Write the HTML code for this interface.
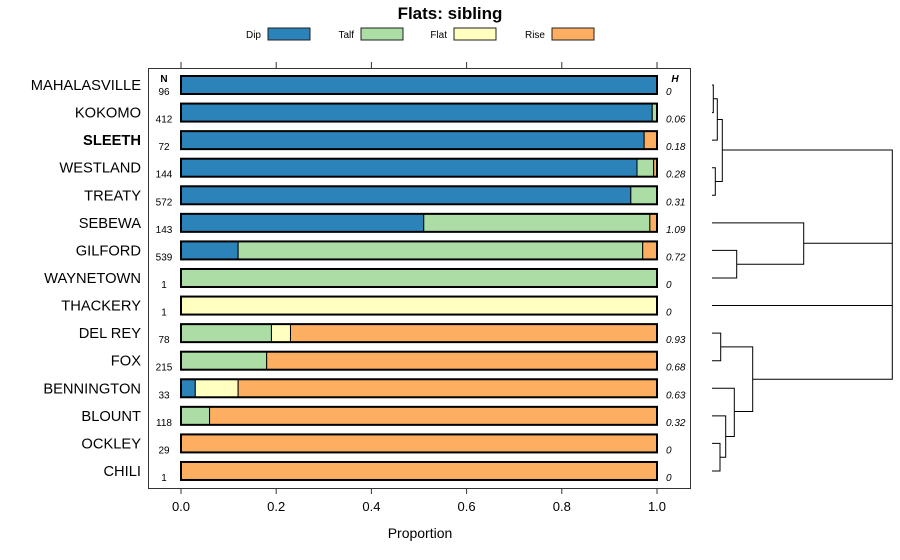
<!DOCTYPE html>
<html><head><meta charset="utf-8"><style>body{margin:0;background:#fff}svg{display:block;font-family:"Liberation Sans",sans-serif}</style></head>
<body>
<svg id="c" width="900" height="560"></svg>
<script>
const categories=["MAHALASVILLE","KOKOMO","SLEETH","WESTLAND","TREATY","SEBEWA","GILFORD","WAYNETOWN","THACKERY","DEL REY","FOX","BENNINGTON","BLOUNT","OCKLEY","CHILI"];
const dipValues=[1,0.99,0.973,0.958,0.945,0.51,0.12,0,0,0,0,0.03,0,0,0];
const talfValues=[0,0.01,0,0.035,0.055,0.475,0.85,1,0,0.19,0.18,0,0.06,0,0];
const flatValues=[0,0,0,0,0,0,0,0,1,0.04,0,0.09,0,0,0];
const riseValues=[0,0,0.027,0.007,0,0.015,0.03,0,0,0.77,0.82,0.88,0.94,1,1];
const nValues=["96","412","72","144","572","143","539","1","1","78","215","33","118","29","1"];
const hValues=["0","0.06","0.18","0.28","0.31","1.09","0.72","0","0","0.93","0.68","0.63","0.32","0","0"];
const xTicks=[0,0.2,0.4,0.6,0.8,1];
const xTickLabels=["0.0","0.2","0.4","0.6","0.8","1.0"];
const seriesNames=["Dip","Talf","Flat","Rise"];
const colors=["#2b83ba","#abdda4","#ffffbf","#fdae61"];
const NS="http://www.w3.org/2000/svg";
const svg=document.getElementById('c');
function el(t,a,p){const e=document.createElementNS(NS,t);for(const k in a)e.setAttribute(k,a[k]);(p||svg).appendChild(e);return e;}
const xs=v=>181+v*476;
const ys=i=>85+i*27.57;
const t=el('text',{x:450,y:19,'text-anchor':'middle','font-size':17,'font-weight':'bold'});t.textContent="Flats: sibling";


const lx=[261,354,447,545];
seriesNames.forEach((s,k)=>{
 const g=el('g',{});
 
 
 const tx=el('text',{x:lx[k],y:38,'text-anchor':'end','font-size':10},g);tx.textContent=s;
 el('rect',{x:lx[k]+7,y:28,width:42,height:12,fill:colors[k],stroke:'#222','stroke-width':1},g);
});
const frame=el('rect',{x:148.5,y:68.5,width:542,height:420,fill:'none',stroke:'#333','stroke-width':1});


xTicks.forEach((v,i)=>{
 el('line',{x1:xs(v),x2:xs(v),y1:62,y2:68,stroke:'#333'});
 el('line',{x1:xs(v),x2:xs(v),y1:488,y2:494,stroke:'#333'});
 const l=el('text',{x:xs(v),y:511,'text-anchor':'middle','font-size':13});l.textContent=xTickLabels[i];
 
 
});
const xt=el('text',{x:420,y:538,'text-anchor':'middle','font-size':14});xt.textContent="Proportion";


let nh=el('text',{x:164,y:82,'text-anchor':'middle','font-size':10,'font-weight':'bold'});nh.textContent="N";
nh=el('text',{x:675,y:82,'text-anchor':'middle','font-size':10,'font-weight':'bold','font-style':'italic'});nh.textContent="H";
const series=[dipValues,talfValues,flatValues,riseValues];
categories.forEach((c,i)=>{
 const y=ys(i);
 const lab=el('text',{x:141,y:y+5,'text-anchor':'end','font-size':14.7,'font-weight':c==="SLEETH"?'bold':'normal'});lab.textContent=c;
 
 
 const n=el('text',{x:164,y:y+10,'text-anchor':'middle','font-size':10});n.textContent=nValues[i];
 const h=el('text',{x:666,y:y+10,'font-size':10,'font-style':'italic'});h.textContent=hValues[i];
 let acc=0;
 series.forEach((arr,k)=>{
  const v=arr[i]; if(v<=0)return;
  const r=el('rect',{x:xs(acc),y:y-9,width:v*476,height:18,fill:colors[k],stroke:'#000','stroke-width':1});
  
  
  acc+=v;
 });
 el('rect',{x:xs(0),y:y-9,width:476,height:18,fill:'none',stroke:'#000','stroke-width':2});
});
const dend=el('g',{stroke:'#000','stroke-width':1,fill:'none'});


function node(x,y1,x1,y2,x2){el('path',{d:`M${x1},${y1}H${x}V${y2}H${x2}`},dend);}
node(713.3,ys(0),712,ys(1),712);
node(717.3,(ys(0)+ys(1))/2,713.3,ys(2),712);
node(715.3,ys(3),712,ys(4),712);
node(722.3,(ys(0)+ys(1)+2*ys(2))/4,717.3,(ys(3)+ys(4))/2,715.3);
node(736.7,ys(6),712,ys(7),712);
node(803.7,ys(5),712,(ys(6)+ys(7))/2,736.7);
node(720.7,ys(9),712,ys(10),712);
node(720,ys(13),712,ys(14),712);
node(725.7,ys(12),712,(ys(13)+ys(14))/2,720);
node(734.3,ys(11),712,(ys(12)+ys(13)/2+ys(14)/2)/2,725.7);
node(752.7,(ys(9)+ys(10))/2,720.7,411.5,734.3);
el('path',{d:`M722.3,150H892.3V379.3H752.7M803.7,243.3H892.3M712,${ys(8)}H892.3`},dend);
</script>
</body></html>
